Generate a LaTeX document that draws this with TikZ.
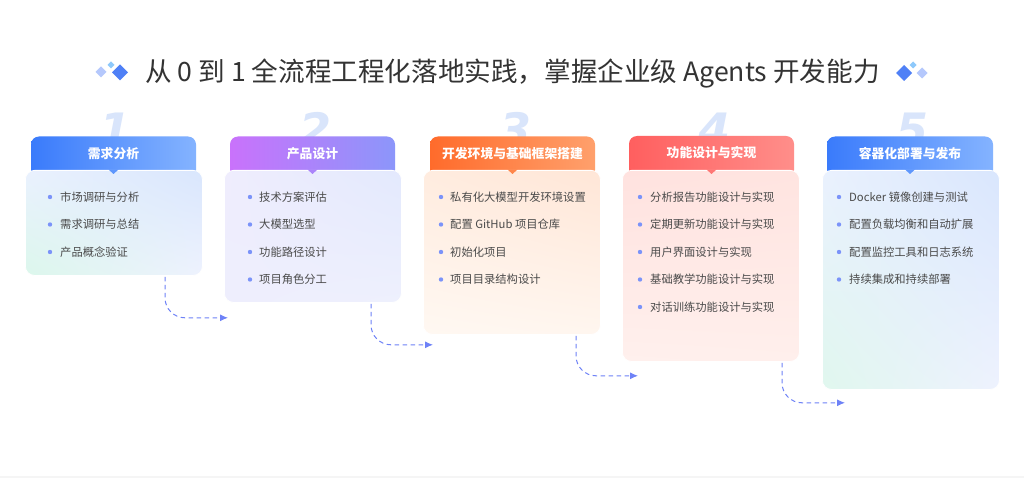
\documentclass[tikz,border=0pt]{standalone}
\usepackage{fontspec}
\setmainfont{Noto Sans CJK SC}
\newfontfamily\numfont{DejaVu Sans}
\usetikzlibrary{calc}
\usetikzlibrary{arrows.meta}
\usetikzlibrary{shadings}
\definecolor{titlegray}{HTML}{333333}
\definecolor{itemgray}{HTML}{4A4A4A}
\definecolor{dotblue}{HTML}{7B93F9}
\definecolor{flowblue}{HTML}{6E82F7}
\definecolor{numblue}{HTML}{D9E5FB}
\definecolor{gemblue}{HTML}{4F80F6}
\definecolor{gemlight}{HTML}{B5C8FC}
\definecolor{gemcyan}{HTML}{8EC9FB}
\definecolor{bluea}{HTML}{3A7BFB}
\definecolor{blueb}{HTML}{84B3FF}
\definecolor{purplea}{HTML}{C972FB}
\definecolor{purpleb}{HTML}{8C96FA}
\definecolor{orangea}{HTML}{FF6B2B}
\definecolor{orangeb}{HTML}{FFA06C}
\definecolor{reda}{HTML}{FF5F5F}
\definecolor{redb}{HTML}{FF8E8A}
% card body tints
\definecolor{skyul}{HTML}{EAF1FE}
\definecolor{skyur}{HTML}{D9E6FD}
\definecolor{skyll}{HTML}{DCF7EC}
\definecolor{skylr}{HTML}{EEF2FE}
\definecolor{lilacul}{HTML}{EFEDFD}
\definecolor{lilacur}{HTML}{E3E9FD}
\definecolor{lilacll}{HTML}{EEEEFD}
\definecolor{lilaclr}{HTML}{EEF0FD}
\definecolor{peachul}{HTML}{FFECDF}
\definecolor{peachur}{HTML}{FFE6D7}
\definecolor{peachll}{HTML}{FFF8F2}
\definecolor{peachlr}{HTML}{FFF6EF}
\definecolor{roseul}{HTML}{FFE2DF}
\definecolor{roseur}{HTML}{FFE4E0}
\definecolor{rosell}{HTML}{FFF0ED}
\definecolor{roselr}{HTML}{FFEFEC}
\definecolor{mintll}{HTML}{E0F7EE}
\tikzset{
  title/.style={text=titlegray, font=\fontsize{26.6}{30}\selectfont},
  headtext/.style={text=white, font=\bfseries\fontsize{12.8}{15}\selectfont},
  card/.style={anchor=north west, minimum width=177pt, draw=white, line width=0.8pt, rounded corners=9pt, inner sep=0pt},
  item/.style={anchor=west, inner sep=0pt, text=itemgray, font=\fontsize{11.3}{13}\selectfont},
  dot/.style={fill=dotblue},
  bignum/.style={anchor=base, text=numblue, font=\numfont\bfseries\itshape\fontsize{46}{46}\selectfont},
  flow/.style={draw=flowblue, line width=1pt, dash pattern=on 4.5pt off 3.5pt, rounded corners=20pt, -{Latex[length=8pt,width=7pt]}},
}

\begin{document}
\begin{tikzpicture}[x=1pt, y=-1pt]
  \useasboundingbox (0,0) rectangle (1024,478);
  \fill[white] (0,0) rectangle (1024,478);
  \fill[black!4] (0,476) rectangle (1024,478);

  % title and gems
  \node[title] (title) at (512.5,74) {从 0 到 1 全流程工程化落地实践，掌握企业级 Agents 开发能力};
  \fill[gemlight] (101,72) ++(-5.5,0) -- ++(5.5,-5.5) -- ++(5.5,5.5) -- ++(-5.5,5.5) -- cycle;
  \fill[gemcyan] (111,65) ++(-3.5,0) -- ++(3.5,-3.5) -- ++(3.5,3.5) -- ++(-3.5,3.5) -- cycle;
  \fill[gemblue] (120,72.5) ++(-8,0) -- ++(8,-8) -- ++(8,8) -- ++(-8,8) -- cycle;
  \fill[gemblue] (904,73) ++(-8,0) -- ++(8,-8) -- ++(8,8) -- ++(-8,8) -- cycle;
  \fill[gemcyan] (913,65) ++(-3.5,0) -- ++(3.5,-3.5) -- ++(3.5,3.5) -- ++(-3.5,3.5) -- cycle;
  \fill[gemlight] (922,73) ++(-5.5,0) -- ++(5.5,-5.5) -- ++(5.5,5.5) -- ++(-5.5,5.5) -- cycle;

  % faint step numbers
  \node[bignum] (n1) at (116,147) {1};
  \node[bignum] (n2) at (315,147) {2};
  \node[bignum] (n3) at (515,147) {3};
  \node[bignum] (n4) at (714,147) {4};
  \node[bignum] (n5) at (912,147) {5};

  % headers
  \shade[left color=bluea, right color=blueb, rounded corners=8pt] (31,136.5) rectangle (196,178);
  \shade[left color=purplea, right color=purpleb, rounded corners=8pt] (230,136.5) rectangle (395,178);
  \shade[left color=orangea, right color=orangeb, rounded corners=8pt] (430,136.5) rectangle (595,178);
  \shade[left color=reda, right color=redb, rounded corners=8pt] (629,136) rectangle (794,178);
  \shade[left color=bluea, right color=blueb, rounded corners=8pt] (827,136.5) rectangle (993,178);

  % card bodies
  \node[card, minimum height=105pt, upper left=skyul, upper right=skyur, lower left=skyll, lower right=skylr] (card1) at (25,170) {};
  \node[card, minimum height=132pt, upper left=lilacul, upper right=lilacur, lower left=lilacll, lower right=lilaclr] (card2) at (224,170) {};
  \node[card, minimum height=164pt, upper left=peachul, upper right=peachur, lower left=peachll, lower right=peachlr] (card3) at (423,170) {};
  \node[card, minimum height=191pt, upper left=roseul, upper right=roseur, lower left=rosell, lower right=roselr] (card4) at (622,170) {};
  \node[card, minimum height=219pt, upper left=skyul, upper right=skyur, lower left=mintll, lower right=skylr] (card5) at (822,170) {};

  % header tails
  \fill[bluea!50!blueb] (108.5,169.5) -- (118.5,169.5) -- (113.5,174) -- cycle;
  \fill[purplea!50!purpleb] (307.5,169.5) -- (317.5,169.5) -- (312.5,174) -- cycle;
  \fill[orangea!50!orangeb] (507.5,169.5) -- (517.5,169.5) -- (512.5,174) -- cycle;
  \fill[reda!50!redb] (706.5,169.5) -- (716.5,169.5) -- (711.5,174) -- cycle;
  \fill[bluea!50!blueb] (905,169.5) -- (915,169.5) -- (910,174) -- cycle;

  \node[headtext] (head1) at (113.5,153.5) {需求分析};
  \node[headtext] (head2) at (312.5,153.5) {产品设计};
  \node[headtext] (head3) at (512.5,153.5) {开发环境与基础框架搭建};
  \node[headtext] (head4) at (711.5,153) {功能设计与实现};
  \node[headtext] (head5) at (910,153.5) {容器化部署与发布};

  % items
  \foreach \t [count=\k] in {市场调研与分析, 需求调研与总结, 产品概念验证} {
    \node[item] (s1-\k) at (60,169.5+27.5*\k) {\t};
    \fill[dot] ([xshift=-10pt]s1-\k.west) circle (2.2pt);
  }
  \foreach \t [count=\k] in {技术方案评估, 大模型选型, 功能路径设计, 项目角色分工} {
    \node[item] (s2-\k) at (259,169.5+27.5*\k) {\t};
    \fill[dot] ([xshift=-9pt]s2-\k.west) circle (2.2pt);
  }
  \foreach \t [count=\k] in {私有化大模型开发环境设置, 配置 GitHub 项目仓库, 初始化项目, 项目目录结构设计} {
    \node[item] (s3-\k) at (450,169.5+27.5*\k) {\t};
    \fill[dot] ([xshift=-9pt]s3-\k.west) circle (2.2pt);
  }
  \foreach \t [count=\k] in {分析报告功能设计与实现, 定期更新功能设计与实现, 用户界面设计与实现, 基础教学功能设计与实现, 对话训练功能设计与实现} {
    \node[item] (s4-\k) at (650,169.5+27.5*\k) {\t};
    \fill[dot] ([xshift=-10pt]s4-\k.west) circle (2.2pt);
  }
  \foreach \t [count=\k] in {Docker 镜像创建与测试, 配置负载均衡和自动扩展, 配置监控工具和日志系统, 持续集成和持续部署} {
    \node[item] (s5-\k) at (849,169.5+27.5*\k) {\t};
    \fill[dot] ([xshift=-10pt]s5-\k.west) circle (2.2pt);
  }

  % flow arrows
  \coordinate (e1) at ($(card1.south west)+(203,42)$);
  \coordinate (e2) at ($(card2.south west)+(209,42)$);
  \coordinate (e3) at ($(card3.south west)+(215,41)$);
  \coordinate (e4) at ($(card4.south west)+(223,41)$);
  \draw[flow] ([xshift=140pt,yshift=-1pt]card1.south west) |- (e1);
  \draw[flow] ([xshift=147pt,yshift=-1pt]card2.south west) |- (e2);
  \draw[flow] ([xshift=153pt,yshift=-1pt]card3.south west) |- (e3);
  \draw[flow] ([xshift=160pt,yshift=-1pt]card4.south west) |- (e4);
\end{tikzpicture}
\end{document}
